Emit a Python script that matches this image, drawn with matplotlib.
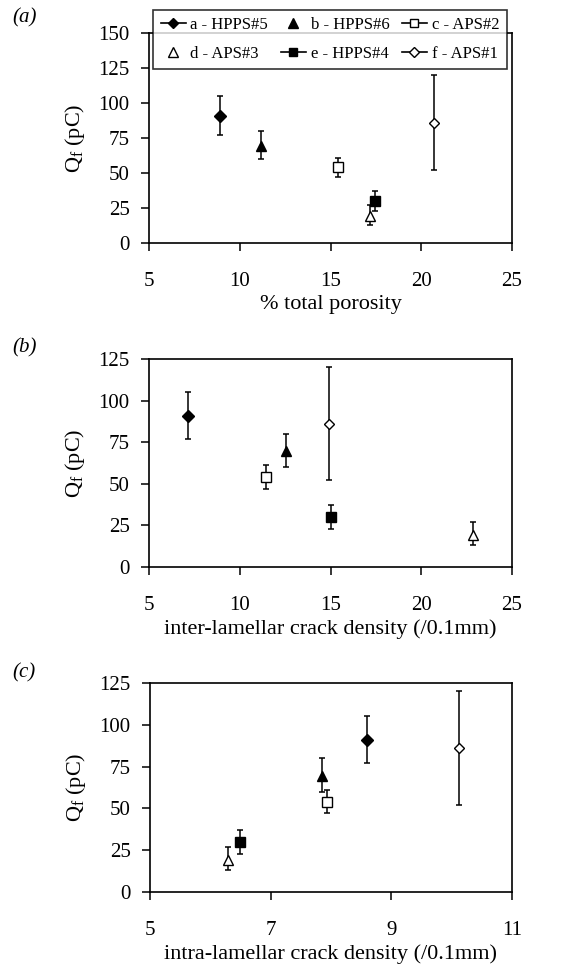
import matplotlib
matplotlib.use("Agg")
import matplotlib.pyplot as plt
from matplotlib.lines import Line2D

plt.rcParams['font.family'] = ['Liberation Serif', 'DejaVu Serif']
plt.rcParams['mathtext.fontset'] = 'custom'
plt.rcParams['mathtext.rm'] = 'Liberation Serif'
plt.rcParams['mathtext.it'] = 'Liberation Serif:italic'

# Data
series = ["a - HPPS#5", "b - HPPS#6", "c - APS#2", "d - APS#3", "e - HPPS#4", "f - APS#1"]
q_values = [91, 69.5, 54, 19, 30, 86]
q_err_low = [14, 9.5, 7, 6, 7, 34]
q_err_high = [14, 10.5, 7, 8, 7, 34]
total_porosity = [8.9, 11.15, 15.4, 17.15, 17.45, 20.7]
inter_crack = [7.15, 12.55, 11.45, 22.85, 15.0, 14.9]
intra_crack = [8.59, 7.85, 7.94, 6.29, 6.49, 10.12]

markers = ['D', '^', 's', '^', 's', 'D']
filled = [True, True, False, False, True, False]
msizes = [6, 7.5, 6.5, 7.5, 6.5, 5.5]
has_line = [True, False, True, False, True, True]

fig = plt.figure(figsize=(5.61, 9.67), dpi=100)

panels = [
    ("(a)", total_porosity, "% total porosity", [5, 10, 15, 20, 25], (5, 25), 150,
     [149/561, 1-243/967, 363/561, 210/967], 1-18/967),
    ("(b)", inter_crack, "inter-lamellar crack density (/0.1mm)", [5, 10, 15, 20, 25], (5, 25), 125,
     [149/561, 1-567/967, 363/561, 208/967], 1-348/967),
    ("(c)", intra_crack, "intra-lamellar crack density (/0.1mm)", [5, 7, 9, 11], (5, 11), 125,
     [150/561, 1-892/967, 362/561, 209/967], 1-673/967),
]

for tag, xs, xlabel, xticks, xlim, ymax, rect, tag_y in panels:
    ax = fig.add_axes(rect)
    for i in range(len(series)):
        ax.errorbar([xs[i]], [q_values[i]],
                    yerr=[[q_err_low[i]], [q_err_high[i]]],
                    fmt='none', ecolor='black', elinewidth=1.1, capsize=2, capthick=1.1, zorder=2)
        ax.plot([xs[i]], [q_values[i]], linestyle='none', marker=markers[i],
                markersize=msizes[i], markeredgecolor='black', markeredgewidth=1.0,
                markerfacecolor='black' if filled[i] else 'white', zorder=3)
    ax.set_xlim(*xlim)
    ax.set_ylim(0, ymax)
    ax.set_xticks(xticks)
    ax.set_yticks(list(range(0, ymax + 1, 25)))
    ax.tick_params(axis='both', direction='out', length=6, width=1.1, labelsize=15,
                   top=False, right=False)
    ax.tick_params(axis='x', pad=15)
    ax.tick_params(axis='y', pad=8)
    for sp in ax.spines.values():
        sp.set_linewidth(1.2)
    ax.set_xlabel(xlabel, fontsize=16, labelpad=3)
    ax.set_ylabel(r"Q$_\mathregular{f}$ (pC)", fontsize=16, labelpad=8)
    fig.text(12/561, tag_y, tag, fontsize=15, style='italic', va='center', ha='left')

handles = []
for i in range(len(series)):
    handles.append(Line2D([], [], color='black', linewidth=1.2 if has_line[i] else 0,
                          linestyle='-' if has_line[i] else 'none',
                          marker=markers[i], markersize=msizes[i] - 0.5,
                          markeredgecolor='black', markeredgewidth=1.0,
                          markerfacecolor='black' if filled[i] else 'white'))
order = [0, 3, 1, 4, 2, 5]
leg = fig.legend([handles[k] for k in order], [series[k] for k in order],
                 ncol=3, loc='center', mode='expand',
                 bbox_to_anchor=(153/561, 1-69/967, 354/561, 59/967),
                 fontsize=12, frameon=True, fancybox=False, edgecolor='black',
                 handlelength=1.5, handletextpad=0.3, columnspacing=0.8,
                 labelspacing=0.75, borderpad=0.45, borderaxespad=0)
leg.get_frame().set_linewidth(1.2)
leg.set_zorder(10)

fig.savefig("out.png", dpi=100)
